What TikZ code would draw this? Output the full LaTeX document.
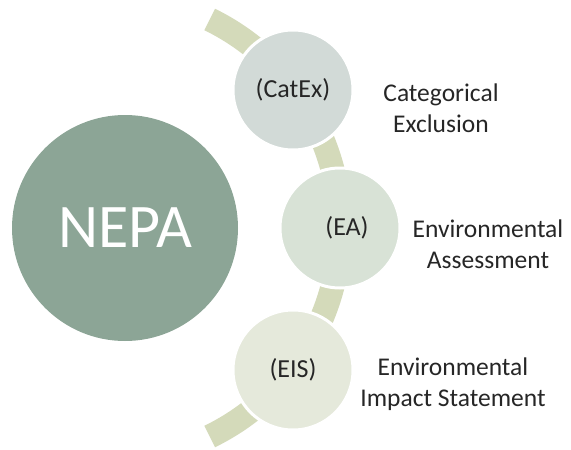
\documentclass[tikz,border=0pt]{standalone}
\usepackage{fontspec}
\setmainfont{Carlito}

\definecolor{nepafill}{HTML}{8CA596}
\definecolor{catexfill}{HTML}{D2DAD7}
\definecolor{eafill}{HTML}{D8E2D6}
\definecolor{eisfill}{HTML}{E5E9DB}
\definecolor{bandfill}{HTML}{D4DABA}
\definecolor{inkgray}{HTML}{262626}

\begin{document}
\begin{tikzpicture}[x=1pt,y=-1pt,
    stage/.style={circle,draw=white,line width=3pt,minimum size=120pt,inner sep=0pt,
      text=inkgray,font=\fontsize{26}{31}\selectfont},
    desc/.style={align=center,inner sep=0pt,text=inkgray,font=\fontsize{25.5}{30.5}\selectfont}]
    \useasboundingbox (0,0) rectangle (571,450);
    % curved band behind the three stages
    \draw[bandfill,line width=24pt] (108,228) ++(64:232) arc[start angle=64,end angle=-64,radius=232];
    % big circle on the left
    \node[circle,fill=nepafill,minimum size=226pt,inner sep=0pt,text=white,
      font=\fontsize{62}{70}\selectfont] (nepa) at (125,228) {NEPA};
    % the three review levels
    \node[stage,fill=catexfill] (catex) at (293,90) {(CatEx)};
    \node[stage,fill=eafill] (ea) at (340,228) {\hspace{14pt}(EA)};
    \node[stage,fill=eisfill] (eis) at (293,370) {(EIS)};
    \node[desc] (catexdesc) at (441,108) {Categorical\\Exclusion};
    \node[desc] (eadesc) at (488,244) {Environmental\\Assessment};
    \node[desc] (eisdesc) at (453,384) {Environmental\\Impact Statement};
\end{tikzpicture}
\end{document}
